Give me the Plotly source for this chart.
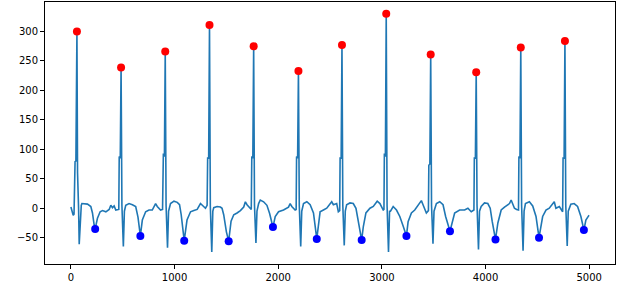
import plotly.graph_objects as go

# ECG-like signal, key points
sig_x = [0, 10, 22, 30, 40, 48, 52, 58, 64, 68, 74, 80, 90, 100, 106, 128, 160, 192, 208, 224, 234, 256, 282, 305, 337, 369, 385, 401, 417, 433, 455, 462,
         466, 476, 484, 492, 506, 516, 529, 561, 593, 625, 647, 670, 689, 721, 753, 785, 817, 833, 865, 884,
         892, 902, 910, 918, 932, 942, 961, 994, 1026, 1048, 1064, 1093, 1120, 1154, 1186, 1218, 1250, 1282, 1298, 1314,
         1319, 1329, 1337, 1345, 1359, 1369, 1378, 1410, 1442, 1458, 1474, 1500, 1522, 1545, 1571, 1603, 1635, 1667, 1683, 1699, 1724, 1740,
         1745, 1755, 1763, 1771, 1785, 1795, 1811, 1827, 1859, 1891, 1917, 1949, 1971, 2003, 2051, 2099, 2115, 2131, 2163, 2173,
         2177, 2187, 2195, 2203, 2217, 2227, 2244, 2276, 2308, 2340, 2372, 2390, 2404, 2436, 2468, 2516, 2532, 2564, 2580, 2593,
         2597, 2607, 2615, 2623, 2637, 2647, 2660, 2692, 2724, 2750, 2772, 2805, 2821, 2846, 2885, 2917, 2955, 2981, 3013, 3020,
         3024, 3034, 3042, 3050, 3064, 3074, 3083, 3109, 3141, 3173, 3205, 3237, 3253, 3285, 3317, 3349, 3381, 3397, 3429, 3449,
         3453, 3463, 3471, 3479, 3493, 3503, 3526, 3558, 3590, 3615, 3657, 3702, 3750, 3798, 3830, 3862, 3888,
         3892, 3902, 3910, 3918, 3932, 3942, 3958, 3990, 4022, 4045, 4064, 4096, 4119, 4151, 4183, 4231, 4247, 4279, 4300, 4318,
         4322, 4332, 4340, 4348, 4362, 4372, 4385, 4423, 4455, 4487, 4516, 4551, 4583, 4615, 4663, 4679, 4712, 4744,
         4748, 4758, 4766, 4774, 4788, 4798, 4823, 4855, 4888, 4920, 4949, 4968, 4994, 4999]
sig_y = [2, -5, -12, -10, 79, 80, 150, 300, 60, 5, 0, -61, -10, 5, 8, 8, 7, 3, -8, -28, -35, -17, -6, -4, -6, -2, 5, 1, 4, -3, -3, -2,
         88, 85, 239, 5, -65, -5, 5, 8, 6, 3, -15, -47, -20, -6, -3, -3, 8, 3, -3, -2,
         93, 88, 266, 5, -67, -5, 8, 12, 10, 6, -11, -55, -20, -6, -4, -2, 8, 3, 0, 5,
         85, 85, 311, 3, -74, -5, 1, 3, 2, 0, -11, -40, -56, -22, -11, -8, -4, 2, 11, 6, 0, -2,
         88, 85, 275, 5, -59, -5, 8, 14, 11, 5, -9, -32, -14, -6, -3, 2, 8, 3, -3, -2,
         88, 85, 233, 5, -65, -5, 8, 11, 6, -8, -52, -22, -6, -3, 0, 11, 6, 8, -6, -4,
         85, 85, 277, 5, -63, -5, 6, 9, 8, 0, -22, -54, -31, -8, 0, 3, 12, 8, -3, -2,
         93, 88, 330, 5, -74, -5, -5, 3, -3, -14, -30, -47, -23, -8, -3, 6, 13, 6, -8, -4,
         73, 75, 261, 5, -60, -5, 8, 11, 6, -14, -39, -8, -3, -3, 0, -6, -3,
         85, 85, 231, 5, -70, -5, 3, 9, 8, 0, -22, -53, -25, -3, 2, 8, 14, 0, -2, -3,
         88, 85, 273, 5, -72, -5, 8, 11, 4, -14, -50, -14, -3, 0, 11, 0, 3, -6,
         85, 85, 284, 5, -64, -5, 7, 8, 3, -14, -37, -20, -13, -12]

peak_x = [58, 484, 910, 1337, 1763, 2195, 2615, 3042, 3471, 3910, 4340, 4766]
peak_y = [300, 239, 266, 311, 275, 233, 277, 330, 261, 231, 273, 284]

trough_x = [234, 670, 1093, 1522, 1949, 2372, 2805, 3237, 3657, 4096, 4516, 4949]
trough_y = [-35, -47, -55, -56, -32, -52, -54, -47, -39, -53, -50, -37]

x_ticks = [0, 1000, 2000, 3000, 4000, 5000]
y_ticks = [-50, 0, 50, 100, 150, 200, 250, 300]

fig = go.Figure()
fig.add_trace(go.Scatter(x=sig_x, y=sig_y, mode="lines",
                         line=dict(color="#1f77b4", width=1.6), showlegend=False))
fig.add_trace(go.Scatter(x=peak_x, y=peak_y, mode="markers",
                         marker=dict(color="red", size=8), showlegend=False))
fig.add_trace(go.Scatter(x=trough_x, y=trough_y, mode="markers",
                         marker=dict(color="blue", size=8), showlegend=False))

axis_common = dict(showgrid=False, zeroline=False, showline=True, linecolor="black",
                   linewidth=1, mirror=True, ticks="outside", ticklen=4,
                   tickcolor="black", tickfont=dict(family="DejaVu Sans", size=10, color="black"))
fig.update_xaxes(range=[-250, 5249], tickvals=x_ticks, **axis_common)
fig.update_yaxes(range=[-94.6, 350], tickvals=y_ticks, **axis_common)

fig.update_layout(width=627, height=285, margin=dict(l=45, r=12, t=2, b=21),
                  plot_bgcolor="white", paper_bgcolor="white")

fig.write_html("out.html", config={"displayModeBar": False},
               post_script="document.body.style.margin='0';document.body.style.overflow='hidden';")
